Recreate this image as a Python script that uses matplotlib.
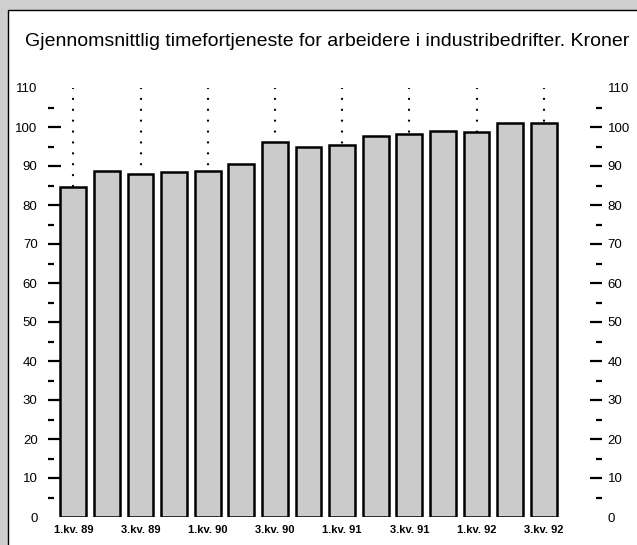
import matplotlib.pyplot as plt
import matplotlib.patches as mpatches
import numpy as np

# data
quarters = ["1.kv. 89", "2.kv. 89", "3.kv. 89", "4.kv. 89",
            "1.kv. 90", "2.kv. 90", "3.kv. 90", "4.kv. 90",
            "1.kv. 91", "2.kv. 91", "3.kv. 91", "4.kv. 91",
            "1.kv. 92", "2.kv. 92", "3.kv. 92"]
wages = [84.5, 88.7, 87.9, 88.5, 88.8, 90.4, 96.2, 95.0,
         95.4, 97.8, 98.2, 99.0, 98.8, 101.1, 100.9]
yticks = np.arange(0, 111, 10)
title = "Gjennomsnittlig timefortjeneste for arbeidere i industribedrifter. Kroner"

W, H = 637, 545
plt.rcParams["font.family"] = ["Liberation Sans", "DejaVu Sans"]

fig = plt.figure(figsize=(W / 100, H / 100), dpi=100)
fig.patch.set_facecolor("#cfcfcf")

# white panel with black frame on left/top
panel = mpatches.Rectangle((8 / W, -0.1), 1.2, (H - 10) / H + 0.1, transform=fig.transFigure,
                           facecolor="white", edgecolor="black", linewidth=1.0, zorder=-5)
fig.patches.append(panel)

ttl = fig.text(25 / W, 1 - 46 / H, title, fontsize=15, ha="left", va="baseline")
# shrink title so it spans the same width as in the reference (~602 px)
r = fig.canvas.get_renderer()
w = ttl.get_window_extent(r).width
ttl.set_fontsize(15 * 602 / w)

# axes placed in pixel terms: left spine x=48, right x=602, y0 at 517, y110 at 88
ax = fig.add_axes([48 / W, (H - 517) / H, (602 - 48) / W, (517 - 88) / H])
ax.set_facecolor("none")
x = np.arange(len(wages))
ax.bar(x, wages, width=0.77, color="#cbcbcb", edgecolor="black", linewidth=1.8, zorder=2)

# dotted guide lines above each labelled quarter (drawn from the top down)
for i in x[::2]:
    ax.plot([i, i], [110, wages[i]], color="black", linewidth=1.7,
            linestyle=(0, (0.01, 4.6)), dash_capstyle="round", zorder=1)

ax.set_xlim((48 - 73.3) / 33.6, (602 - 73.3) / 33.6)
ax.set_ylim(0, 110)

ax.set_xticks(x[::2])
ax.set_xticklabels([quarters[i] for i in x[::2]], fontweight="bold", fontsize=8)
ax.tick_params(axis="x", length=0, pad=6)

# right-hand scale as its own axis so its label gap can differ
ax2 = ax.twinx()
ax2.set_ylim(0, 110)

for a, side, pad in ((ax, "left", 7.5), (ax2, "right", 4)):
    for s in a.spines.values():
        s.set_visible(False)
    a.set_yticks(yticks)
    a.set_yticks(np.arange(5, 110, 10), minor=True)
    a.yaxis.set_ticks_position(side)
    a.tick_params(axis="y", which="both", direction="in", labelsize=9.5, width=1.6, color="black")
    a.tick_params(axis="y", which="major", length=9, pad=pad)
    a.tick_params(axis="y", which="minor", length=4)

# no tick marks at 0 and 110, only labels
fig.canvas.draw()
for a in (ax, ax2):
    for t in a.yaxis.majorTicks:
        if t.get_loc() is not None and (abs(t.get_loc()) < 1e-9 or abs(t.get_loc() - 110) < 1e-9):
            t.tick1line.set_visible(False)
            t.tick2line.set_visible(False)

fig.savefig("out.png", dpi=100, facecolor=fig.get_facecolor())
